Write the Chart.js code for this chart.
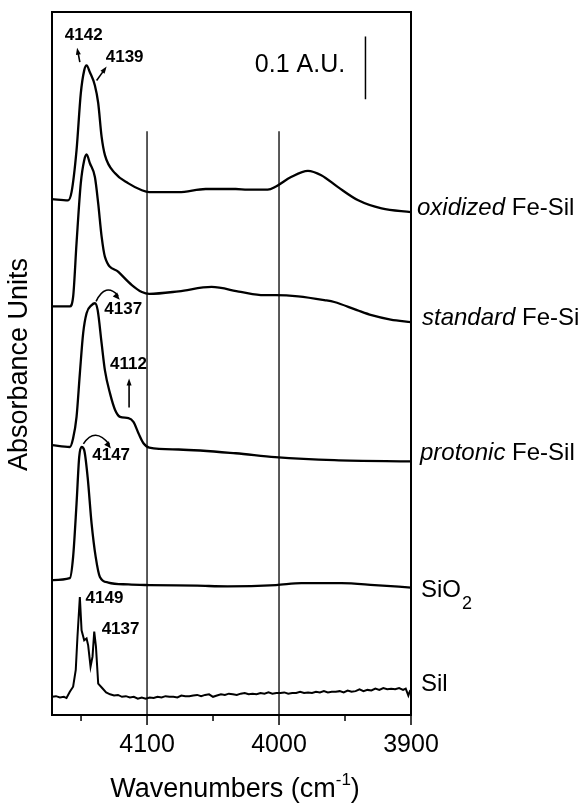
<!DOCTYPE html>
<html><head><meta charset="utf-8">
<script src="https://cdn.jsdelivr.net/npm/chart.js@4"></script>
<style>html,body{margin:0;padding:0;background:#fff}</style>
</head><body>
<canvas id="c" width="580" height="805"></canvas>
<script>
// ---- Data (wavenumber cm-1, absorbance, offset traces) ----
const wOx = [4172,4159.8,4157.2,4153.4,4150.2,4147.6,4145.8,4143.3,4139.5,4137.0,4134.4,4131.9,4124.2,4114.1,4103.9,4098.3,4076,4055.6,4032.8,4023.9,4008.6,4002.3,3990.9,3978.1,3968,3955.3,3940,3922.3,3900];
const aOx = [0.822,0.820,0.833,0.900,0.990,1.027,1.035,1.024,1.003,0.975,0.921,0.892,0.863,0.847,0.836,0.833,0.833,0.838,0.838,0.837,0.837,0.842,0.857,0.867,0.860,0.841,0.820,0.807,0.801];

const wSt = [4172,4158.5,4156,4153.4,4150.2,4147.6,4145.8,4143.3,4139.5,4137,4134.4,4131.9,4121.7,4111.5,4103.9,4098.3,4076,4051.1,4029,4011.4,4002.3,3985.5,3965.7,3958.1,3940.9,3929.9,3915.4,3900];
const aSt = [0.651,0.651,0.666,0.752,0.847,0.884,0.893,0.879,0.857,0.815,0.762,0.730,0.706,0.685,0.674,0.671,0.675,0.682,0.674,0.669,0.669,0.667,0.661,0.658,0.645,0.637,0.630,0.626];

const wPr = [4172,4158.5,4156,4153.4,4150.9,4148.4,4145.8,4142,4139.5,4137.4,4134.4,4131.9,4128,4124.2,4120.4,4114.1,4110.3,4106.5,4102.7,4098.3,4076,4032.8,4003,3958.1,3900];
const aPr = [0.430,0.427,0.441,0.475,0.544,0.608,0.640,0.653,0.656,0.645,0.592,0.549,0.512,0.486,0.475,0.473,0.467,0.449,0.433,0.426,0.423,0.417,0.411,0.406,0.404];

const wSi = [4172,4158.5,4156,4153.4,4151.4,4149.6,4147.6,4145,4142,4138.9,4135.7,4129.3,4114.1,4098.3,4062,4039,4002.3,3983,3952.7,3927.6,3900];
const aSi = [0.215,0.218,0.252,0.337,0.411,0.427,0.422,0.379,0.305,0.252,0.220,0.211,0.208,0.207,0.206,0.205,0.207,0.210,0.210,0.207,0.203];

const wSil = [4172,4169,4166,4163,4161,4158.5,4156,4154,4152.7,4150.9,4149.6,4147.6,4145.8,4144.6,4142.8,4141.3,4140,4138.7,4137,4134,4131,4128,4125,4122,4119,4116,4113,4110,4107,4104,4101,4098,4095,4092,4089,4086,4083,4080,4077,4074,4071,4068,4065,4062,4059,4056,4053,4050,4047,4044,4041,4038,4035,4032,4029,4026,4023,4020,4017,4014,4011,4008,4005,4002,3999,3996,3993,3990,3987,3984,3981,3978,3975,3972,3969,3966,3963,3960,3957,3954,3951,3948,3945,3942,3939,3936,3933,3930,3927,3924,3921,3918,3915,3912,3909,3906,3904,3902,3901,3900];
const aSil = [0.029,0.030,0.028,0.029,0.027,0.037,0.045,0.072,0.125,0.188,0.135,0.119,0.122,0.111,0.077,0.093,0.133,0.109,0.050,0.043,0.036,0.033,0.031,0.032,0.029,0.030,0.028,0.029,0.026,0.028,0.026,0.028,0.027,0.029,0.028,0.030,0.029,0.029,0.028,0.031,0.030,0.030,0.031,0.032,0.030,0.032,0.033,0.029,0.031,0.033,0.032,0.034,0.033,0.032,0.034,0.035,0.033,0.034,0.033,0.035,0.034,0.036,0.034,0.035,0.035,0.036,0.034,0.035,0.035,0.037,0.035,0.036,0.035,0.037,0.036,0.038,0.036,0.037,0.037,0.038,0.036,0.039,0.037,0.038,0.041,0.038,0.040,0.039,0.042,0.040,0.043,0.041,0.042,0.041,0.043,0.040,0.042,0.031,0.037,0.034];

const refLines = [4100, 4000];
const refTop = 0.93;
const barW = 3934.5, barLo = 0.981, barHi = 1.081;

const xTicks = [4100, 4000, 3900];
const xMinor = [4150, 4050, 3950];

const seriesLabels = [
  {it:'oxidized', rest:' Fe-Sil', v:0.807, dx:6},
  {it:'standard', rest:' Fe-Sil', v:0.632, dx:11},
  {it:'protonic', rest:' Fe-Sil', v:0.417, dx:9},
  {it:'', rest:'SiO', sub:'2', v:0.199, dx:10},
  {it:'', rest:'Sil', v:0.049, dx:10}
];
const notes = [
  {t:'4142', w:4162.3, v:1.083},
  {t:'4139', w:4131.3, v:1.048},
  {t:'4137', w:4132.4, v:0.646},
  {t:'4112', w:4128.0, v:0.559},
  {t:'4147', w:4141.5, v:0.414},
  {t:'4149', w:4146.6, v:0.186},
  {t:'4137', w:4134.4, v:0.136}
];
const straightArrows = [
  {w0:4150.9, v0:1.040, w1:4153.0, v1:1.063},
  {w0:4138.2, v0:1.011, w1:4130.6, v1:1.033},
  {w0:4113.6, v0:0.490, w1:4113.6, v1:0.536}
];
const curvedArrows = [
  {w0:4138.6, v0:0.659, wc:4131.5, vc:0.690, w1:4121.8, v1:0.668},
  {w0:4148.2, v0:0.432, wc:4139.5, vc:0.460, w1:4128.5, v1:0.431}
];

const pts = (xs, ys) => xs.map((x,i)=>({x, y:ys[i]}));
const FONT = '"Liberation Sans", Arial, Helvetica, sans-serif';

function curve(xs, ys, smooth){
  return {data:pts(xs,ys), borderColor:'#000', borderWidth:smooth?2.3:2, pointRadius:0,
    fill:false, tension: smooth?0.4:0, cubicInterpolationMode: smooth?'monotone':'default'};
}
const datasets = [
  curve(wOx,aOx,true), curve(wSt,aSt,true), curve(wPr,aPr,true), curve(wSi,aSi,true), curve(wSil,aSil,false)
];
refLines.forEach(w=>datasets.push({data:[{x:w,y:0},{x:w,y:refTop}], borderColor:'#000', borderWidth:1.3, pointRadius:0, tension:0}));
datasets.push({data:[{x:barW,y:barLo},{x:barW,y:barHi}], borderColor:'#000', borderWidth:1.5, pointRadius:0, tension:0});

function head(ctx, x, y, ang, len, wid){
  ctx.save(); ctx.translate(x,y); ctx.rotate(ang);
  ctx.beginPath(); ctx.moveTo(0,0); ctx.lineTo(-len, wid/2); ctx.lineTo(-len,-wid/2); ctx.closePath(); ctx.fill();
  ctx.restore();
}

const deco = {
  id:'deco',
  afterDatasetsDraw(chart){
    const {ctx, chartArea:a, scales:{x, y}} = chart;
    ctx.save();
    ctx.strokeStyle='#000'; ctx.fillStyle='#000';
    ctx.lineWidth=2;
    ctx.strokeRect(a.left, a.top, a.right-a.left, a.bottom-a.top);
    ctx.lineWidth=1.5;
    xTicks.forEach(t=>{const p=x.getPixelForValue(t); ctx.beginPath(); ctx.moveTo(p,a.bottom); ctx.lineTo(p,a.bottom+10); ctx.stroke();});
    xMinor.forEach(t=>{const p=x.getPixelForValue(t); ctx.beginPath(); ctx.moveTo(p,a.bottom); ctx.lineTo(p,a.bottom+6); ctx.stroke();});
    ctx.textBaseline='middle'; ctx.textAlign='center';
    ctx.font='25px '+FONT;
    xTicks.forEach(t=>ctx.fillText(String(t), x.getPixelForValue(t), a.bottom+30));
    // x title
    ctx.font='27px '+FONT;
    const t1='Wavenumbers (cm', t3=')';
    const w1=ctx.measureText(t1).width, w3=ctx.measureText(t3).width;
    ctx.font='17px '+FONT; const w2=ctx.measureText('-1').width;
    let sx = 235 - (w1+w2+w3)/2, ty = a.bottom+75;
    ctx.textAlign='left';
    ctx.font='27px '+FONT; ctx.fillText(t1, sx, ty);
    ctx.font='17px '+FONT; ctx.fillText('-1', sx+w1, ty-10);
    ctx.font='27px '+FONT; ctx.fillText(t3, sx+w1+w2, ty);
    // y title
    ctx.save(); ctx.translate(20, (a.top+a.bottom)/2+1); ctx.rotate(-Math.PI/2);
    ctx.textAlign='center'; ctx.font='27px '+FONT; ctx.fillText('Absorbance Units',0,0); ctx.restore();
    // series labels
    seriesLabels.forEach(s=>{
      let px=a.right+s.dx, py=y.getPixelForValue(s.v);
      ctx.textAlign='left';
      if(s.it){ ctx.font='italic 24px '+FONT; ctx.fillText(s.it, px, py); px+=ctx.measureText(s.it).width; }
      ctx.font='24px '+FONT; ctx.fillText(s.rest, px, py); px+=ctx.measureText(s.rest).width;
      if(s.sub){ ctx.font='18px '+FONT; ctx.fillText(s.sub, px+1, py+14); }
    });
    // scale label
    ctx.font='25px '+FONT; ctx.textAlign='left';
    ctx.fillText('0.1 A.U.', x.getPixelForValue(4018.3), y.getPixelForValue(1.035));
    // notes
    ctx.font='bold 17px '+FONT;
    notes.forEach(n=>ctx.fillText(n.t, x.getPixelForValue(n.w), y.getPixelForValue(n.v)));
    ctx.lineWidth=1.6;
    straightArrows.forEach(r=>{
      const x0=x.getPixelForValue(r.w0), y0=y.getPixelForValue(r.v0), x1=x.getPixelForValue(r.w1), y1=y.getPixelForValue(r.v1);
      const ang=Math.atan2(y1-y0,x1-x0);
      ctx.beginPath(); ctx.moveTo(x0,y0); ctx.lineTo(x1-5*Math.cos(ang),y1-5*Math.sin(ang)); ctx.stroke();
      head(ctx,x1,y1,ang,7,5);
    });
    curvedArrows.forEach(r=>{
      const x0=x.getPixelForValue(r.w0), y0=y.getPixelForValue(r.v0), xc=x.getPixelForValue(r.wc), yc=y.getPixelForValue(r.vc), x1=x.getPixelForValue(r.w1), y1=y.getPixelForValue(r.v1);
      ctx.beginPath(); ctx.moveTo(x0,y0); ctx.quadraticCurveTo(xc,yc,x1,y1); ctx.stroke();
      head(ctx,x1+1.5,y1+4,Math.atan2(y1-yc,x1-xc),7,6);
    });
    ctx.restore();
  }
};

new Chart(document.getElementById('c'), {
  type:'line',
  data:{datasets},
  options:{
    responsive:false, animation:false, devicePixelRatio:1,
    layout:{padding:{left:52, right:169, top:12, bottom:90}},
    plugins:{legend:{display:false}, tooltip:{enabled:false}},
    scales:{
      x:{type:'linear', min:3900, max:4172, reverse:true, display:false},
      y:{type:'linear', min:0, max:1.12, display:false}
    }
  },
  plugins:[deco]
});
</script>
</body></html>
